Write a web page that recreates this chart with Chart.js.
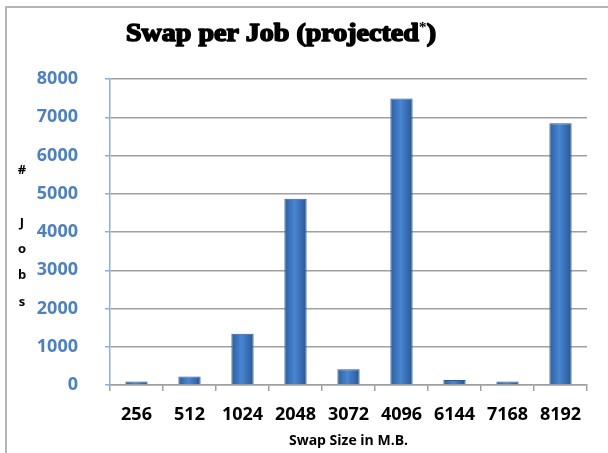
<!DOCTYPE html>
<html>
<head>
<meta charset="utf-8">
<script src="https://cdn.jsdelivr.net/npm/chart.js@4.4.0/dist/chart.umd.min.js"></script>
<style>
  html, body { margin: 0; padding: 0; background: #fff; }
  #wrap { position: relative; width: 608px; height: 453px; }
</style>
</head>
<body>
<div id="wrap"><canvas id="swapChart" width="608" height="453"></canvas></div>
<script>
// data
var categories = ['256', '512', '1024', '2048', '3072', '4096', '6144', '7168', '8192'];
var jobs = [90, 220, 1340, 4870, 410, 7490, 130, 90, 6840];
var yTicks = [0, 1000, 2000, 3000, 4000, 5000, 6000, 7000, 8000];
var titleText = 'Swap per Job (projected';
var yTitleLetters = ['#', '', 'J', 'o', 'b', 's'];
var xTitle = 'Swap Size in M.B.';

var BAR_PCT = 0.42;

// frame, chart title and the stacked y title are painted by hand
var decorations = {
  id: 'decorations',
  beforeDraw: function (chart) {
    var ctx = chart.ctx;
    ctx.save();
    ctx.fillStyle = '#b4b4b4';
    ctx.fillRect(5, 6, 2, 453);
    ctx.fillRect(5, 6, 608, 2);
    ctx.restore();
  },
  afterDraw: function (chart) {
    var ctx = chart.ctx;
    ctx.save();
    // title, stretched a bit to the width of the original heavy face
    ctx.fillStyle = '#000';
    ctx.strokeStyle = '#000';
    ctx.lineWidth = 1.6;
    ctx.lineJoin = 'round';
    ctx.textBaseline = 'alphabetic';
    ctx.textAlign = 'left';
    var big = 'bold 25px "Liberation Serif"';
    var small = 'bold 14px "Liberation Serif"';
    ctx.font = big;
    var w1 = ctx.measureText(titleText).width;
    var w3 = ctx.measureText(')').width;
    ctx.font = small;
    var w2 = ctx.measureText('*').width;
    var total = w1 + w2 + w3;
    var sx = 310 / total;
    var base = 41;
    ctx.translate(281 - 155, base);
    ctx.scale(sx, 1);
    ctx.font = big;
    ctx.fillText(titleText, 0, 0);
    ctx.strokeText(titleText, 0, 0);
    ctx.font = small;
    ctx.fillText('*', w1, -9);
    ctx.font = big;
    ctx.fillText(')', w1 + w2, 0);
    ctx.strokeText(')', w1 + w2, 0);
    ctx.setTransform(1, 0, 0, 1, 0, 0);

    // y title, one letter per line
    ctx.font = 'bold 13px "Open Sans"';
    ctx.textAlign = 'center';
    ctx.textBaseline = 'middle';
    yTitleLetters.forEach(function (ch, i) {
      ctx.fillText(ch, 22, 170 + i * 26.4);
    });
    ctx.restore();
  }
};

function barFill(c) {
  var chart = c.chart;
  var xs = chart.scales.x;
  if (!xs || c.dataIndex === undefined) return '#3e78c2';
  var cx = xs.getPixelForValue(c.dataIndex);
  var w = (xs.width / categories.length) * BAR_PCT;
  if (!isFinite(cx) || !isFinite(w) || w <= 0) return '#3e78c2';
  var g = chart.ctx.createLinearGradient(cx - w / 2, 0, cx + w / 2, 0);
  g.addColorStop(0, '#2d5e9f');
  g.addColorStop(0.45, '#4886d2');
  g.addColorStop(1, '#2a5695');
  return g;
}

var ctx = document.getElementById('swapChart').getContext('2d');
var swapChart = new Chart(ctx, {
  type: 'bar',
  data: {
    labels: categories,
    datasets: [{
      label: 'Jobs',
      data: jobs,
      backgroundColor: barFill,
      borderColor: '#2b5a96',
      borderWidth: 1,
      categoryPercentage: 1,
      barPercentage: BAR_PCT
    }]
  },
  options: {
    responsive: false,
    animation: false,
    layout: { padding: { top: 79, right: 21, left: 0, bottom: 0 } },
    plugins: {
      legend: { display: false },
      tooltip: { enabled: false },
      title: { display: false }
    },
    scales: {
      x: {
        afterFit: function (s) { s.height = 68; },
        grid: {
          drawOnChartArea: false,
          color: '#a0a0a0',
          tickLength: 6,
          lineWidth: 1.5
        },
        border: { color: '#a0a0a0', width: 1.5 },
        ticks: {
          color: '#000',
          padding: 13,
          font: { family: 'Open Sans', size: 18, weight: 'bold' }
        },
        title: {
          display: true,
          text: xTitle,
          color: '#000',
          padding: { top: 0, bottom: 4 },
          font: { family: 'Open Sans', size: 14, weight: 'bold' }
        }
      },
      y: {
        min: 0,
        max: 8000,
        afterFit: function (s) { s.width = 110; },
        afterBuildTicks: function (s) {
          s.ticks = yTicks.map(function (v) { return { value: v }; });
        },
        grid: {
          color: '#a0a0a0',
          lineWidth: 1.5,
          tickLength: 5,
          tickColor: '#8aaedf'
        },
        border: { color: '#8aaedf', width: 1.5 },
        ticks: {
          color: '#4f81bd',
          padding: 27,
          font: { family: 'Open Sans', size: 18, weight: 'bold' },
          callback: function (v) { return String(v); }
        }
      }
    }
  },
  plugins: [decorations]
});
</script>
</body>
</html>
